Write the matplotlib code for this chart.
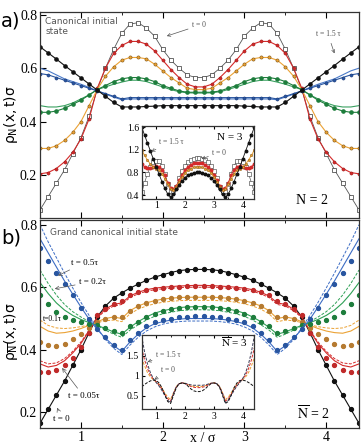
import numpy as np
import matplotlib
matplotlib.use("Agg")
import matplotlib.pyplot as plt
from matplotlib.ticker import MultipleLocator

plt.rcParams['font.family'] = ['Liberation Serif', 'DejaVu Serif']
plt.rcParams['mathtext.fontset'] = 'stix'

# sample positions x / sigma
x = [0.5, 0.6, 0.7, 0.8, 0.9, 1.0, 1.1, 1.2, 1.3, 1.4, 1.5, 1.6, 1.7, 1.8, 1.9, 2.0, 2.1, 2.2, 2.3, 2.4,
     2.5, 2.6, 2.7, 2.8, 2.9, 3.0, 3.1, 3.2, 3.3, 3.4, 3.5, 3.6, 3.7, 3.8, 3.9, 4.0, 4.1, 4.2, 4.3, 4.4]

# ---- panel a) canonical initial state, N = 2
a_t0 = [0.07, 0.12, 0.17, 0.22, 0.28, 0.34, 0.42, 0.52, 0.60, 0.67, 0.73, 0.765, 0.77, 0.75, 0.72, 0.67, 0.63, 0.60, 0.575, 0.565,
        0.565, 0.575, 0.60, 0.63, 0.67, 0.72, 0.75, 0.77, 0.765, 0.73, 0.67, 0.60, 0.52, 0.42, 0.34, 0.28, 0.22, 0.17, 0.12, 0.07]
a_red = [0.205, 0.21, 0.225, 0.25, 0.285, 0.335, 0.41, 0.525, 0.60, 0.655, 0.685, 0.70, 0.70, 0.69, 0.665, 0.63, 0.595, 0.565, 0.54, 0.53,
         0.53, 0.54, 0.565, 0.595, 0.63, 0.665, 0.69, 0.70, 0.70, 0.685, 0.655, 0.60, 0.525, 0.41, 0.335, 0.285, 0.25, 0.225, 0.21, 0.205]
a_org = [0.30, 0.30, 0.31, 0.33, 0.36, 0.40, 0.46, 0.52, 0.57, 0.605, 0.63, 0.64, 0.64, 0.635, 0.615, 0.59, 0.565, 0.545, 0.525, 0.52,
         0.52, 0.525, 0.545, 0.565, 0.59, 0.615, 0.635, 0.64, 0.64, 0.63, 0.605, 0.57, 0.52, 0.46, 0.40, 0.36, 0.33, 0.31, 0.30, 0.30]
a_grn = [0.435, 0.435, 0.44, 0.45, 0.465, 0.48, 0.50, 0.52, 0.535, 0.55, 0.56, 0.565, 0.565, 0.56, 0.55, 0.535, 0.525, 0.515, 0.51, 0.51,
         0.51, 0.51, 0.515, 0.525, 0.535, 0.55, 0.56, 0.565, 0.565, 0.56, 0.55, 0.535, 0.52, 0.50, 0.48, 0.465, 0.45, 0.44, 0.435, 0.435]
a_grn_th = [0.46, 0.455, 0.455, 0.46, 0.47, 0.485, 0.50, 0.52, 0.53, 0.54, 0.548, 0.555, 0.555, 0.55, 0.54, 0.53, 0.52, 0.512, 0.508, 0.507,
            0.507, 0.508, 0.512, 0.52, 0.53, 0.54, 0.55, 0.555, 0.555, 0.548, 0.54, 0.53, 0.52, 0.50, 0.485, 0.47, 0.46, 0.455, 0.455, 0.46]
a_blu = [0.58, 0.575, 0.565, 0.555, 0.545, 0.535, 0.525, 0.515, 0.505, 0.495, 0.485, 0.49, 0.49, 0.49, 0.49, 0.49, 0.49, 0.49, 0.49, 0.49,
         0.49, 0.49, 0.49, 0.49, 0.49, 0.49, 0.49, 0.49, 0.49, 0.485, 0.495, 0.505, 0.515, 0.525, 0.535, 0.545, 0.555, 0.565, 0.575, 0.58]
a_blu_th = [0.60, 0.59, 0.575, 0.56, 0.55, 0.54, 0.528, 0.515, 0.503, 0.492, 0.482, 0.485, 0.485, 0.485, 0.485, 0.485, 0.485, 0.485, 0.485, 0.485,
            0.485, 0.485, 0.485, 0.485, 0.485, 0.485, 0.485, 0.485, 0.485, 0.482, 0.492, 0.503, 0.515, 0.528, 0.54, 0.55, 0.56, 0.575, 0.59, 0.60]
a_blk = [0.68, 0.657, 0.634, 0.61, 0.587, 0.564, 0.541, 0.518, 0.495, 0.472, 0.455, 0.455, 0.455, 0.457, 0.458, 0.46, 0.46, 0.46, 0.46, 0.46,
         0.46, 0.46, 0.46, 0.46, 0.46, 0.458, 0.457, 0.455, 0.455, 0.455, 0.472, 0.495, 0.518, 0.541, 0.564, 0.587, 0.61, 0.634, 0.657, 0.68]

# inset a) N = 3
ia_t0 = [0.45, 0.62, 0.78, 0.90, 0.98, 1.01, 1.00, 0.92, 0.78, 0.60, 0.47, 0.45, 0.55, 0.70, 0.83, 0.92, 0.98, 1.02, 1.04, 1.05,
         1.05, 1.04, 1.02, 0.98, 0.92, 0.83, 0.70, 0.55, 0.45, 0.47, 0.60, 0.78, 0.92, 1.00, 1.01, 0.98, 0.90, 0.78, 0.62, 0.45]
ia_red = [0.95, 0.90, 0.88, 0.88, 0.90, 0.92, 0.90, 0.85, 0.75, 0.62, 0.52, 0.50, 0.56, 0.66, 0.76, 0.84, 0.90, 0.94, 0.96, 0.97,
          0.97, 0.96, 0.94, 0.90, 0.84, 0.76, 0.66, 0.56, 0.50, 0.52, 0.62, 0.75, 0.85, 0.90, 0.92, 0.90, 0.88, 0.88, 0.90, 0.95]
ia_org = [1.20, 1.10, 1.02, 0.95, 0.90, 0.87, 0.84, 0.78, 0.69, 0.59, 0.51, 0.49, 0.55, 0.64, 0.72, 0.79, 0.84, 0.87, 0.89, 0.90,
          0.90, 0.89, 0.87, 0.84, 0.79, 0.72, 0.64, 0.55, 0.49, 0.51, 0.59, 0.69, 0.78, 0.84, 0.87, 0.90, 0.95, 1.02, 1.10, 1.20]
ia_blk = [1.60, 1.46, 1.32, 1.18, 1.04, 0.90, 0.77, 0.64, 0.52, 0.42, 0.36, 0.42, 0.50, 0.58, 0.65, 0.71, 0.75, 0.78, 0.79, 0.80,
          0.80, 0.79, 0.78, 0.75, 0.71, 0.65, 0.58, 0.50, 0.42, 0.36, 0.42, 0.52, 0.64, 0.77, 0.90, 1.04, 1.18, 1.32, 1.46, 1.60]

# ---- panel b) grand canonical initial state, N = 2
b_blk = [0.165, 0.21, 0.255, 0.30, 0.35, 0.40, 0.455, 0.505, 0.54, 0.565, 0.582, 0.597, 0.61, 0.622, 0.632, 0.64, 0.647, 0.653, 0.656, 0.657,
         0.657, 0.656, 0.653, 0.647, 0.64, 0.632, 0.622, 0.61, 0.597, 0.582, 0.565, 0.54, 0.505, 0.455, 0.40, 0.35, 0.30, 0.255, 0.21, 0.165]
b_red = [0.33, 0.33, 0.335, 0.35, 0.375, 0.41, 0.455, 0.51, 0.53, 0.545, 0.555, 0.575, 0.585, 0.59, 0.595, 0.598, 0.60, 0.602, 0.604, 0.605,
         0.605, 0.604, 0.602, 0.60, 0.598, 0.595, 0.59, 0.585, 0.575, 0.555, 0.545, 0.53, 0.51, 0.455, 0.41, 0.375, 0.35, 0.335, 0.33, 0.33]
b_red_sol = [0.355, 0.345, 0.35, 0.365, 0.39, 0.42, 0.46, 0.505, 0.53, 0.545, 0.55, 0.572, 0.584, 0.592, 0.597, 0.60, 0.602, 0.604, 0.605, 0.606,
             0.606, 0.605, 0.604, 0.602, 0.60, 0.597, 0.592, 0.584, 0.572, 0.55, 0.545, 0.53, 0.505, 0.46, 0.42, 0.39, 0.365, 0.35, 0.345, 0.355]
b_red_dsh = [0.365, 0.355, 0.358, 0.372, 0.395, 0.425, 0.462, 0.503, 0.525, 0.54, 0.545, 0.567, 0.579, 0.587, 0.592, 0.595, 0.597, 0.599, 0.60, 0.60,
             0.60, 0.60, 0.599, 0.597, 0.595, 0.592, 0.587, 0.579, 0.567, 0.545, 0.54, 0.525, 0.503, 0.462, 0.425, 0.395, 0.372, 0.358, 0.355, 0.365]
b_org = [0.425, 0.415, 0.413, 0.42, 0.435, 0.45, 0.47, 0.49, 0.50, 0.505, 0.505, 0.525, 0.54, 0.55, 0.557, 0.562, 0.566, 0.568, 0.57, 0.57,
         0.57, 0.57, 0.568, 0.566, 0.562, 0.557, 0.55, 0.54, 0.525, 0.505, 0.505, 0.50, 0.49, 0.47, 0.45, 0.435, 0.42, 0.413, 0.415, 0.425]
b_org_sol = [0.475, 0.46, 0.453, 0.455, 0.46, 0.468, 0.478, 0.49, 0.50, 0.505, 0.50, 0.525, 0.54, 0.55, 0.557, 0.562, 0.565, 0.567, 0.568, 0.568,
             0.568, 0.568, 0.567, 0.565, 0.562, 0.557, 0.55, 0.54, 0.525, 0.50, 0.505, 0.50, 0.49, 0.478, 0.468, 0.46, 0.455, 0.453, 0.46, 0.475]
b_org_dsh = [0.495, 0.478, 0.47, 0.468, 0.47, 0.474, 0.48, 0.487, 0.493, 0.495, 0.49, 0.515, 0.53, 0.54, 0.547, 0.552, 0.555, 0.557, 0.558, 0.558,
             0.558, 0.558, 0.557, 0.555, 0.552, 0.547, 0.54, 0.53, 0.515, 0.49, 0.495, 0.493, 0.487, 0.48, 0.474, 0.47, 0.468, 0.47, 0.478, 0.495]
b_grn = [0.575, 0.545, 0.52, 0.505, 0.495, 0.488, 0.483, 0.478, 0.47, 0.46, 0.455, 0.475, 0.49, 0.505, 0.515, 0.525, 0.53, 0.535, 0.537, 0.538,
         0.538, 0.537, 0.535, 0.53, 0.525, 0.515, 0.505, 0.49, 0.475, 0.455, 0.46, 0.47, 0.478, 0.483, 0.488, 0.495, 0.505, 0.52, 0.545, 0.575]
b_grn_sol = [0.615, 0.58, 0.55, 0.527, 0.51, 0.497, 0.487, 0.478, 0.468, 0.457, 0.45, 0.472, 0.49, 0.505, 0.517, 0.525, 0.53, 0.535, 0.537, 0.538,
             0.538, 0.537, 0.535, 0.53, 0.525, 0.517, 0.505, 0.49, 0.472, 0.45, 0.457, 0.468, 0.478, 0.487, 0.497, 0.51, 0.527, 0.55, 0.58, 0.615]
b_grn_dsh = [0.655, 0.612, 0.575, 0.545, 0.522, 0.505, 0.49, 0.477, 0.463, 0.45, 0.44, 0.463, 0.48, 0.495, 0.507, 0.515, 0.52, 0.525, 0.527, 0.528,
             0.528, 0.527, 0.525, 0.52, 0.515, 0.507, 0.495, 0.48, 0.463, 0.44, 0.45, 0.463, 0.477, 0.49, 0.505, 0.522, 0.545, 0.575, 0.612, 0.655]
b_blu = [0.725, 0.685, 0.645, 0.61, 0.575, 0.535, 0.497, 0.465, 0.44, 0.415, 0.40, 0.43, 0.455, 0.475, 0.488, 0.496, 0.50, 0.504, 0.506, 0.507,
         0.507, 0.506, 0.504, 0.50, 0.496, 0.488, 0.475, 0.455, 0.43, 0.40, 0.415, 0.44, 0.465, 0.497, 0.535, 0.575, 0.61, 0.645, 0.685, 0.725]
b_blu_sol = [0.755, 0.71, 0.665, 0.62, 0.578, 0.537, 0.498, 0.465, 0.437, 0.413, 0.395, 0.425, 0.45, 0.47, 0.483, 0.49, 0.495, 0.498, 0.50, 0.50,
             0.50, 0.50, 0.498, 0.495, 0.49, 0.483, 0.47, 0.45, 0.425, 0.395, 0.413, 0.437, 0.465, 0.498, 0.537, 0.578, 0.62, 0.665, 0.71, 0.755]
b_blu_dsh = [0.80, 0.745, 0.695, 0.645, 0.598, 0.552, 0.51, 0.47, 0.433, 0.405, 0.385, 0.415, 0.44, 0.46, 0.473, 0.482, 0.487, 0.49, 0.492, 0.492,
             0.492, 0.492, 0.49, 0.487, 0.482, 0.473, 0.46, 0.44, 0.415, 0.385, 0.405, 0.433, 0.47, 0.51, 0.552, 0.598, 0.645, 0.695, 0.745, 0.80]

# inset b) Nbar = 3 (dashed theory curves)
ib_t0 = [0.72, 0.78, 0.83, 0.87, 0.89, 0.88, 0.82, 0.70, 0.52, 0.35, 0.30, 0.50, 0.70, 0.80, 0.82, 0.80, 0.74, 0.67, 0.62, 0.60,
         0.60, 0.62, 0.67, 0.74, 0.80, 0.82, 0.80, 0.70, 0.50, 0.30, 0.35, 0.52, 0.70, 0.82, 0.88, 0.89, 0.87, 0.83, 0.78, 0.72]
ib_red = [1.70, 1.40, 1.18, 1.02, 0.92, 0.85, 0.77, 0.66, 0.53, 0.42, 0.36, 0.55, 0.72, 0.80, 0.82, 0.81, 0.77, 0.73, 0.71, 0.70,
          0.70, 0.71, 0.73, 0.77, 0.81, 0.82, 0.80, 0.72, 0.55, 0.36, 0.42, 0.53, 0.66, 0.77, 0.85, 0.92, 1.02, 1.18, 1.40, 1.70]
ib_org = [1.45, 1.25, 1.08, 0.97, 0.90, 0.85, 0.79, 0.69, 0.57, 0.46, 0.40, 0.57, 0.73, 0.80, 0.82, 0.81, 0.78, 0.75, 0.73, 0.73,
          0.73, 0.73, 0.75, 0.78, 0.81, 0.82, 0.80, 0.73, 0.57, 0.40, 0.46, 0.57, 0.69, 0.79, 0.85, 0.90, 0.97, 1.08, 1.25, 1.45]
ib_late = [2.00, 1.60, 1.30, 1.08, 0.93, 0.83, 0.74, 0.63, 0.50, 0.38, 0.32, 0.55, 0.72, 0.80, 0.82, 0.81, 0.79, 0.77, 0.76, 0.76,
           0.76, 0.76, 0.77, 0.79, 0.81, 0.82, 0.80, 0.72, 0.55, 0.32, 0.38, 0.50, 0.63, 0.74, 0.83, 0.93, 1.08, 1.30, 1.60, 2.00]

RED = '#d42a2a'
ORG = '#eba235'
GRN = '#1d7d3c'
BLU = '#2855a0'
GRY = '#555555'


def style(ax, fs=10, major=1, minor=0.5):
    ax.xaxis.set_major_locator(MultipleLocator(major))
    ax.xaxis.set_minor_locator(MultipleLocator(minor))
    ax.tick_params(which='both', direction='in', top=True, labelsize=fs, pad=2)
    ax.tick_params(which='major', length=4)
    ax.tick_params(which='minor', length=2)
    for s in ax.spines.values():
        s.set_linewidth(0.9)
        s.set_color('#333333')


fig = plt.figure(figsize=(3.62, 4.46), dpi=100)
W, H = 362., 446.

# ---------------- panel a
ax = fig.add_axes([40 / W, 1 - 218 / H, 319 / W, 206 / H])
ax.plot(x, a_t0, '-', color=GRY, lw=0.6, marker='s', ms=2.6, mfc='white', mec='#333333', mew=0.5)
ax.plot(x, a_red, '-', color=RED, lw=0.8, marker='o', ms=2.3, mfc=RED, mec='#8a1010', mew=0.3)
ax.plot(x, a_org, '-', color=ORG, lw=0.8, marker='o', ms=2.3, mfc=ORG, mec='#7a5010', mew=0.4)
ax.plot(x, a_grn_th, '-', color='#3aa060', lw=0.8)
ax.plot(x, a_grn, '-', color=GRN, lw=0.8, marker='o', ms=2.3, mfc=GRN, mec=GRN)
ax.plot(x, a_blu_th, '-', color='#4a7ac8', lw=0.8)
ax.plot(x, a_blu, '-', color=BLU, lw=0.8, marker='o', ms=2.3, mfc=BLU, mec='#15306a', mew=0.3)
ax.plot(x, a_blk, '-', color='#111111', lw=0.8, marker='o', ms=2.3, mfc='#111111', mec='#111111')
ax.set_xlim(0.5, 4.4)
ax.set_ylim(0.04, 0.81)
ax.yaxis.set_major_locator(MultipleLocator(0.2))
style(ax)
ax.set_xticklabels([])
ax.text(0.016, 0.975, 'Canonical initial\nstate', transform=ax.transAxes, ha='left', va='top',
        fontsize=6.5, color=GRY, family='DejaVu Sans', linespacing=1.1)
ax.annotate('t = 0', xy=(2.05, 0.72), xytext=(2.36, 0.76), fontsize=5.5, color=GRY, va='center',
            arrowprops=dict(arrowstyle='->', color=GRY, lw=0.5, shrinkA=1, shrinkB=0))
ax.annotate('t = 1.5 τ', xy=(4.1, 0.655), xytext=(4.02, 0.728), fontsize=5.5, color=GRY, ha='center', va='center',
            arrowprops=dict(arrowstyle='->', color=GRY, lw=0.5, shrinkA=2, shrinkB=0))
ax.text(3.83, 0.105, 'N = 2', fontsize=10, ha='center', va='center')

# inset a
ia = fig.add_axes([141.7 / W, 1 - 198.5 / H, 112.6 / W, 73 / H])
ia.plot(x, ia_t0, '-', color=GRY, lw=0.5, marker='s', ms=2.2, mfc='white', mec='#333333', mew=0.4)
ia.plot(x, ia_red, '-', color=RED, lw=0.7, marker='o', ms=1.8, mfc=RED, mec=RED)
ia.plot(x, ia_org, '-', color=ORG, lw=0.7, marker='o', ms=1.8, mfc=ORG, mec='#7a5010', mew=0.3)
ia.plot(x, ia_blk, '-', color='#111111', lw=0.6, marker='o', ms=1.8, mfc='#111111', mec='#111111')
ia.set_xlim(0.5, 4.4)
ia.set_ylim(0.34, 1.63)
ia.yaxis.set_major_locator(MultipleLocator(0.4))
style(ia, fs=7)
ia.tick_params(which='major', length=2.5)
ia.tick_params(which='minor', length=1.5)
ia.text(3.55, 1.42, 'N = 3', fontsize=8, ha='center', va='center')
ia.annotate('t = 1.5 τ', xy=(0.83, 1.17), xytext=(1.1, 1.34), fontsize=5.5, color=GRY, va='center',
            arrowprops=dict(arrowstyle='->', color=GRY, lw=0.5, shrinkA=1, shrinkB=0))
ia.annotate('t = 0', xy=(2.57, 1.04), xytext=(2.95, 1.15), fontsize=5.5, color=GRY, va='center',
            arrowprops=dict(arrowstyle='->', color=GRY, lw=0.5, shrinkA=1, shrinkB=0))

# ---------------- panel b
bx = fig.add_axes([40 / W, 1 - 428 / H, 319 / W, 208 / H])
bx.plot(x, b_blk, '-', color='#111111', lw=0.8, marker='o', ms=2.8, mfc='#111111', mec='#111111')
bx.plot(x, b_red_dsh, '--', color=RED, lw=0.7, dashes=(3, 1.5))
bx.plot(x, b_red_sol, '-', color=RED, lw=0.8)
bx.plot(x, b_red, 'o', ms=2.8, color='#c02a2a')
bx.plot(x, b_org_dsh, '--', color=ORG, lw=0.7, dashes=(3, 1.5))
bx.plot(x, b_org_sol, '-', color=ORG, lw=0.8)
bx.plot(x, b_org, 'o', ms=2.8, color='#b57a30')
bx.plot(x, b_grn_dsh, '--', color='#2ea055', lw=0.7, dashes=(3, 1.5))
bx.plot(x, b_grn_sol, '-', color='#2ea055', lw=0.8)
bx.plot(x, b_grn, 'o', ms=2.8, color=GRN)
bx.plot(x, b_blu_dsh, '--', color='#3c6cc4', lw=0.7, dashes=(3, 1.5))
bx.plot(x, b_blu_sol, '-', color='#3c6cc4', lw=0.8)
bx.plot(x, b_blu, 'o', ms=2.8, color=BLU)
bx.set_xlim(0.5, 4.4)
bx.set_ylim(0.15, 0.815)
bx.yaxis.set_major_locator(MultipleLocator(0.2))
style(bx)
bx.text(0.031, 0.96, 'Grand canonical initial state', transform=bx.transAxes, ha='left', va='top',
        fontsize=6.5, color=GRY, family='DejaVu Sans')
ann = dict(arrowstyle='->', color=GRY, lw=0.5, shrinkA=1, shrinkB=0)
bx.annotate('t = 0.5τ', xy=(0.72, 0.637), xytext=(0.88, 0.679), fontsize=6.5, va='center', arrowprops=ann)
bx.annotate('t = 0.2τ', xy=(0.68, 0.595), xytext=(0.98, 0.618), fontsize=6.5, va='center', arrowprops=ann)
bx.text(0.53, 0.499, 't=0.1τ', fontsize=5.5, va='center')
bx.annotate('t = 0.05τ', xy=(0.77, 0.342), xytext=(0.84, 0.252), fontsize=6.5, va='center', arrowprops=ann)
bx.annotate('t = 0', xy=(0.71, 0.215), xytext=(0.66, 0.18), fontsize=6.5, va='center', arrowprops=ann)
bx.text(3.85, 0.198, r'$\overline{\rm N}$ = 2', fontsize=10, ha='center', va='center')

# inset b
ib = fig.add_axes([141.7 / W, 1 - 409 / H, 112.6 / W, 74 / H])
ib.plot(x, ib_org, '--', color=ORG, lw=0.7, dashes=(3, 1.5))
ib.plot(x, ib_red, '--', color=RED, lw=0.7, dashes=(3, 1.5))
ib.plot(x, ib_late, '--', color='#3a3a55', lw=0.7, dashes=(3, 1.5))
ib.plot(x, ib_t0, '--', color='#111111', lw=0.7, dashes=(3, 1.5))
ib.set_xlim(0.5, 4.4)
ib.set_ylim(0.16, 2.03)
ib.set_yticks([0.5, 1.0, 1.5])
ib.set_yticklabels(['0.5', '1', '1.5'])
style(ib, fs=7)
ib.tick_params(which='major', length=2.5)
ib.tick_params(which='minor', length=1.5)
ib.text(3.73, 1.86, r'$\overline{\rm N}$ = 3', fontsize=8, ha='center', va='center')
ib.annotate('t = 1.5 τ', xy=(0.7, 1.35), xytext=(1.0, 1.53), fontsize=5.5, color=GRY, va='center',
            arrowprops=dict(arrowstyle='->', color=GRY, lw=0.5, shrinkA=1, shrinkB=0))
ib.annotate('t = 0', xy=(0.94, 0.9), xytext=(1.18, 1.15), fontsize=5.5, color=GRY, va='center',
            arrowprops=dict(arrowstyle='->', color=GRY, lw=0.5, shrinkA=1, shrinkB=0))

# panel labels, axis labels
fig.text(1 / W, 1 - 21 / H, 'a)', fontsize=14, family='DejaVu Sans', va='center')
fig.text(1 / W, 1 - 238 / H, 'b)', fontsize=14, family='DejaVu Sans', va='center')
fig.text(11 / W, 1 - 115 / H, r'$\mathrm{\rho_N(x,t)\sigma}$', rotation=90, fontsize=10,
         ha='center', va='center', math_fontfamily='dejavusans')
fig.text(11 / W, 1 - 332 / H, r'$\mathrm{\rho_{\overline{N}}(x,t)\sigma}$', rotation=90, fontsize=10,
         ha='center', va='center', math_fontfamily='dejavusans')
fig.text(203 / W, 1 - 439 / H, 'x / σ', fontsize=10, ha='center', va='center')

fig.savefig('out.png', dpi=100)
